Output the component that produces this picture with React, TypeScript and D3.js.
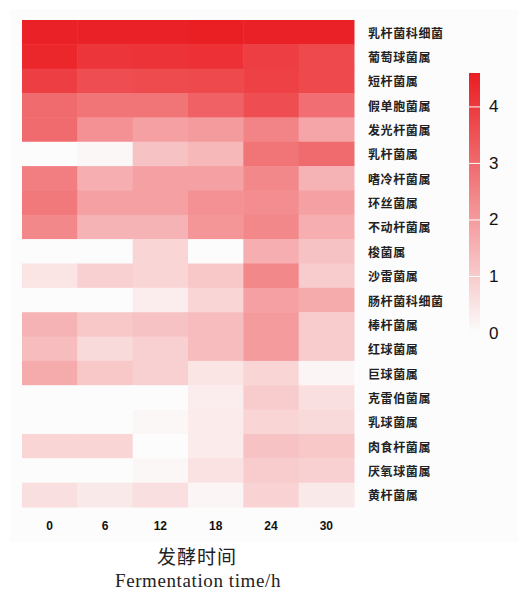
import * as d3 from 'd3';

const times = ['0', '6', '12', '18', '24', '30'];

const genera = [
  '乳杆菌科细菌', '葡萄球菌属', '短杆菌属', '假单胞菌属', '发光杆菌属',
  '乳杆菌属', '嗜冷杆菌属', '环丝菌属', '不动杆菌属', '梭菌属',
  '沙雷菌属', '肠杆菌科细菌', '棒杆菌属', '红球菌属', '巨球菌属',
  '克雷伯菌属', '乳球菌属', '肉食杆菌属', '厌氧球菌属', '黄杆菌属',
];

// one row per genus, columns follow `times`
const values = [
  [4.5, 4.5, 4.5, 4.55, 4.5, 4.5],
  [4.4, 4.1, 4.15, 4.2, 3.9, 3.7],
  [3.9, 3.6, 3.65, 3.7, 3.85, 3.7],
  [3.0, 2.8, 2.8, 3.2, 3.6, 2.9],
  [3.0, 2.2, 1.9, 2.0, 2.5, 1.8],
  [0, 0.1, 1.2, 1.4, 2.8, 3.0],
  [2.6, 1.6, 1.9, 1.9, 2.4, 1.5],
  [2.7, 1.9, 1.9, 2.2, 2.3, 1.9],
  [2.4, 1.5, 1.5, 2.1, 2.4, 1.6],
  [0, 0, 0.8, 0, 1.6, 1.2],
  [0.5, 0.9, 0.8, 1.1, 2.4, 1.0],
  [0, 0, 0.3, 0.8, 1.9, 1.7],
  [1.5, 1.1, 1.2, 1.3, 2.0, 1.0],
  [1.3, 0.7, 0.9, 1.3, 2.0, 1.0],
  [1.7, 1.1, 0.9, 0.5, 0.8, 0.15],
  [0, 0, 0, 0.3, 1.0, 0.6],
  [0, 0, 0.1, 0.35, 0.8, 0.7],
  [0.8, 0.8, 0, 0.35, 1.2, 1.1],
  [0, 0, 0.1, 0.55, 1.0, 0.9],
  [0.6, 0.4, 0.6, 0.15, 0.85, 0.4],
];

const legendTicks = [0, 1, 2, 3, 4];
const MAX_VAL = 4.6;

export default function App() {
  const width = 518, height = 590;
  const left = 22, right = 354, top = 20, bottom = 507;

  const x = d3.scaleBand().domain(times).range([left, right]);
  const y = d3.scaleBand().domain(genera).range([top, bottom]);
  const color = d3.scaleLinear<string>().domain([0, MAX_VAL]).range(['#fcfcfc', '#ea1d22']);

  const ly = d3.scaleLinear().domain([0, MAX_VAL]).range([333, 73]);
  const barX = 469, barW = 11;
  const stops = d3.range(0, 11).map((i) => i / 10);

  return (
    <svg width={width} height={height} style={{ position: 'absolute', left: 0, top: 0 }}>
      <defs>
        <linearGradient id="lg" x1="0" y1="1" x2="0" y2="0">
          {stops.map((s) => (
            <stop key={s} offset={s} stopColor={color(s * MAX_VAL)} />
          ))}
        </linearGradient>
      </defs>
      <rect x={0} y={0} width={width} height={height} fill="#ffffff" />
      <rect x={10} y={9} width={width - 10} height={533} fill="#fcfcfc" />

      {values.map((row, i) =>
        row.map((v, j) => (
          <rect
            key={`${i}-${j}`}
            x={x(times[j])}
            y={y(genera[i])}
            width={x.bandwidth() + 0.5}
            height={y.bandwidth() + 0.5}
            fill={color(v)}
          />
        ))
      )}

      {genera.map((g) => (
        <text
          key={g}
          x={368}
          y={(y(g) ?? 0) + y.bandwidth() / 2}
          dominantBaseline="central"
          fontSize={12}
          fontWeight="bold"
          letterSpacing={0.6}
          fill="#222"
          fontFamily="'Noto Sans CJK SC', sans-serif"
        >
          {g}
        </text>
      ))}

      {times.map((t) => (
        <text
          key={t}
          x={(x(t) ?? 0) + x.bandwidth() / 2}
          y={526}
          textAnchor="middle"
          dominantBaseline="central"
          fontSize={12}
          fontWeight="bold"
          fill="#111"
          fontFamily="'Liberation Sans', Arial, sans-serif"
        >
          {t}
        </text>
      ))}

      <rect x={barX} y={ly(MAX_VAL)} width={barW} height={ly(0) - ly(MAX_VAL)} fill="url(#lg)" />
      {legendTicks.map((t) => (
        <g key={t}>
          {t > 0 && <line x1={barX} x2={barX + barW} y1={ly(t)} y2={ly(t)} stroke="#fff" strokeWidth={1} />}
          <text
            x={489}
            y={ly(t)}
            dominantBaseline="central"
            fontSize={17}
            fill="#111"
            fontFamily="'Liberation Sans', Arial, sans-serif"
          >
            {t}
          </text>
        </g>
      ))}

      <text
        x={197}
        y={555}
        textAnchor="middle"
        dominantBaseline="central"
        fontSize={19}
        letterSpacing={1}
        fill="#222"
        fontFamily="'Noto Sans CJK SC', sans-serif"
      >
        发酵时间
      </text>
      <text
        x={198}
        y={580}
        textAnchor="middle"
        dominantBaseline="central"
        fontSize={19}
        letterSpacing={0.6}
        fill="#222"
        fontFamily="'Liberation Serif', serif"
      >
        Fermentation time/h
      </text>
    </svg>
  );
}
